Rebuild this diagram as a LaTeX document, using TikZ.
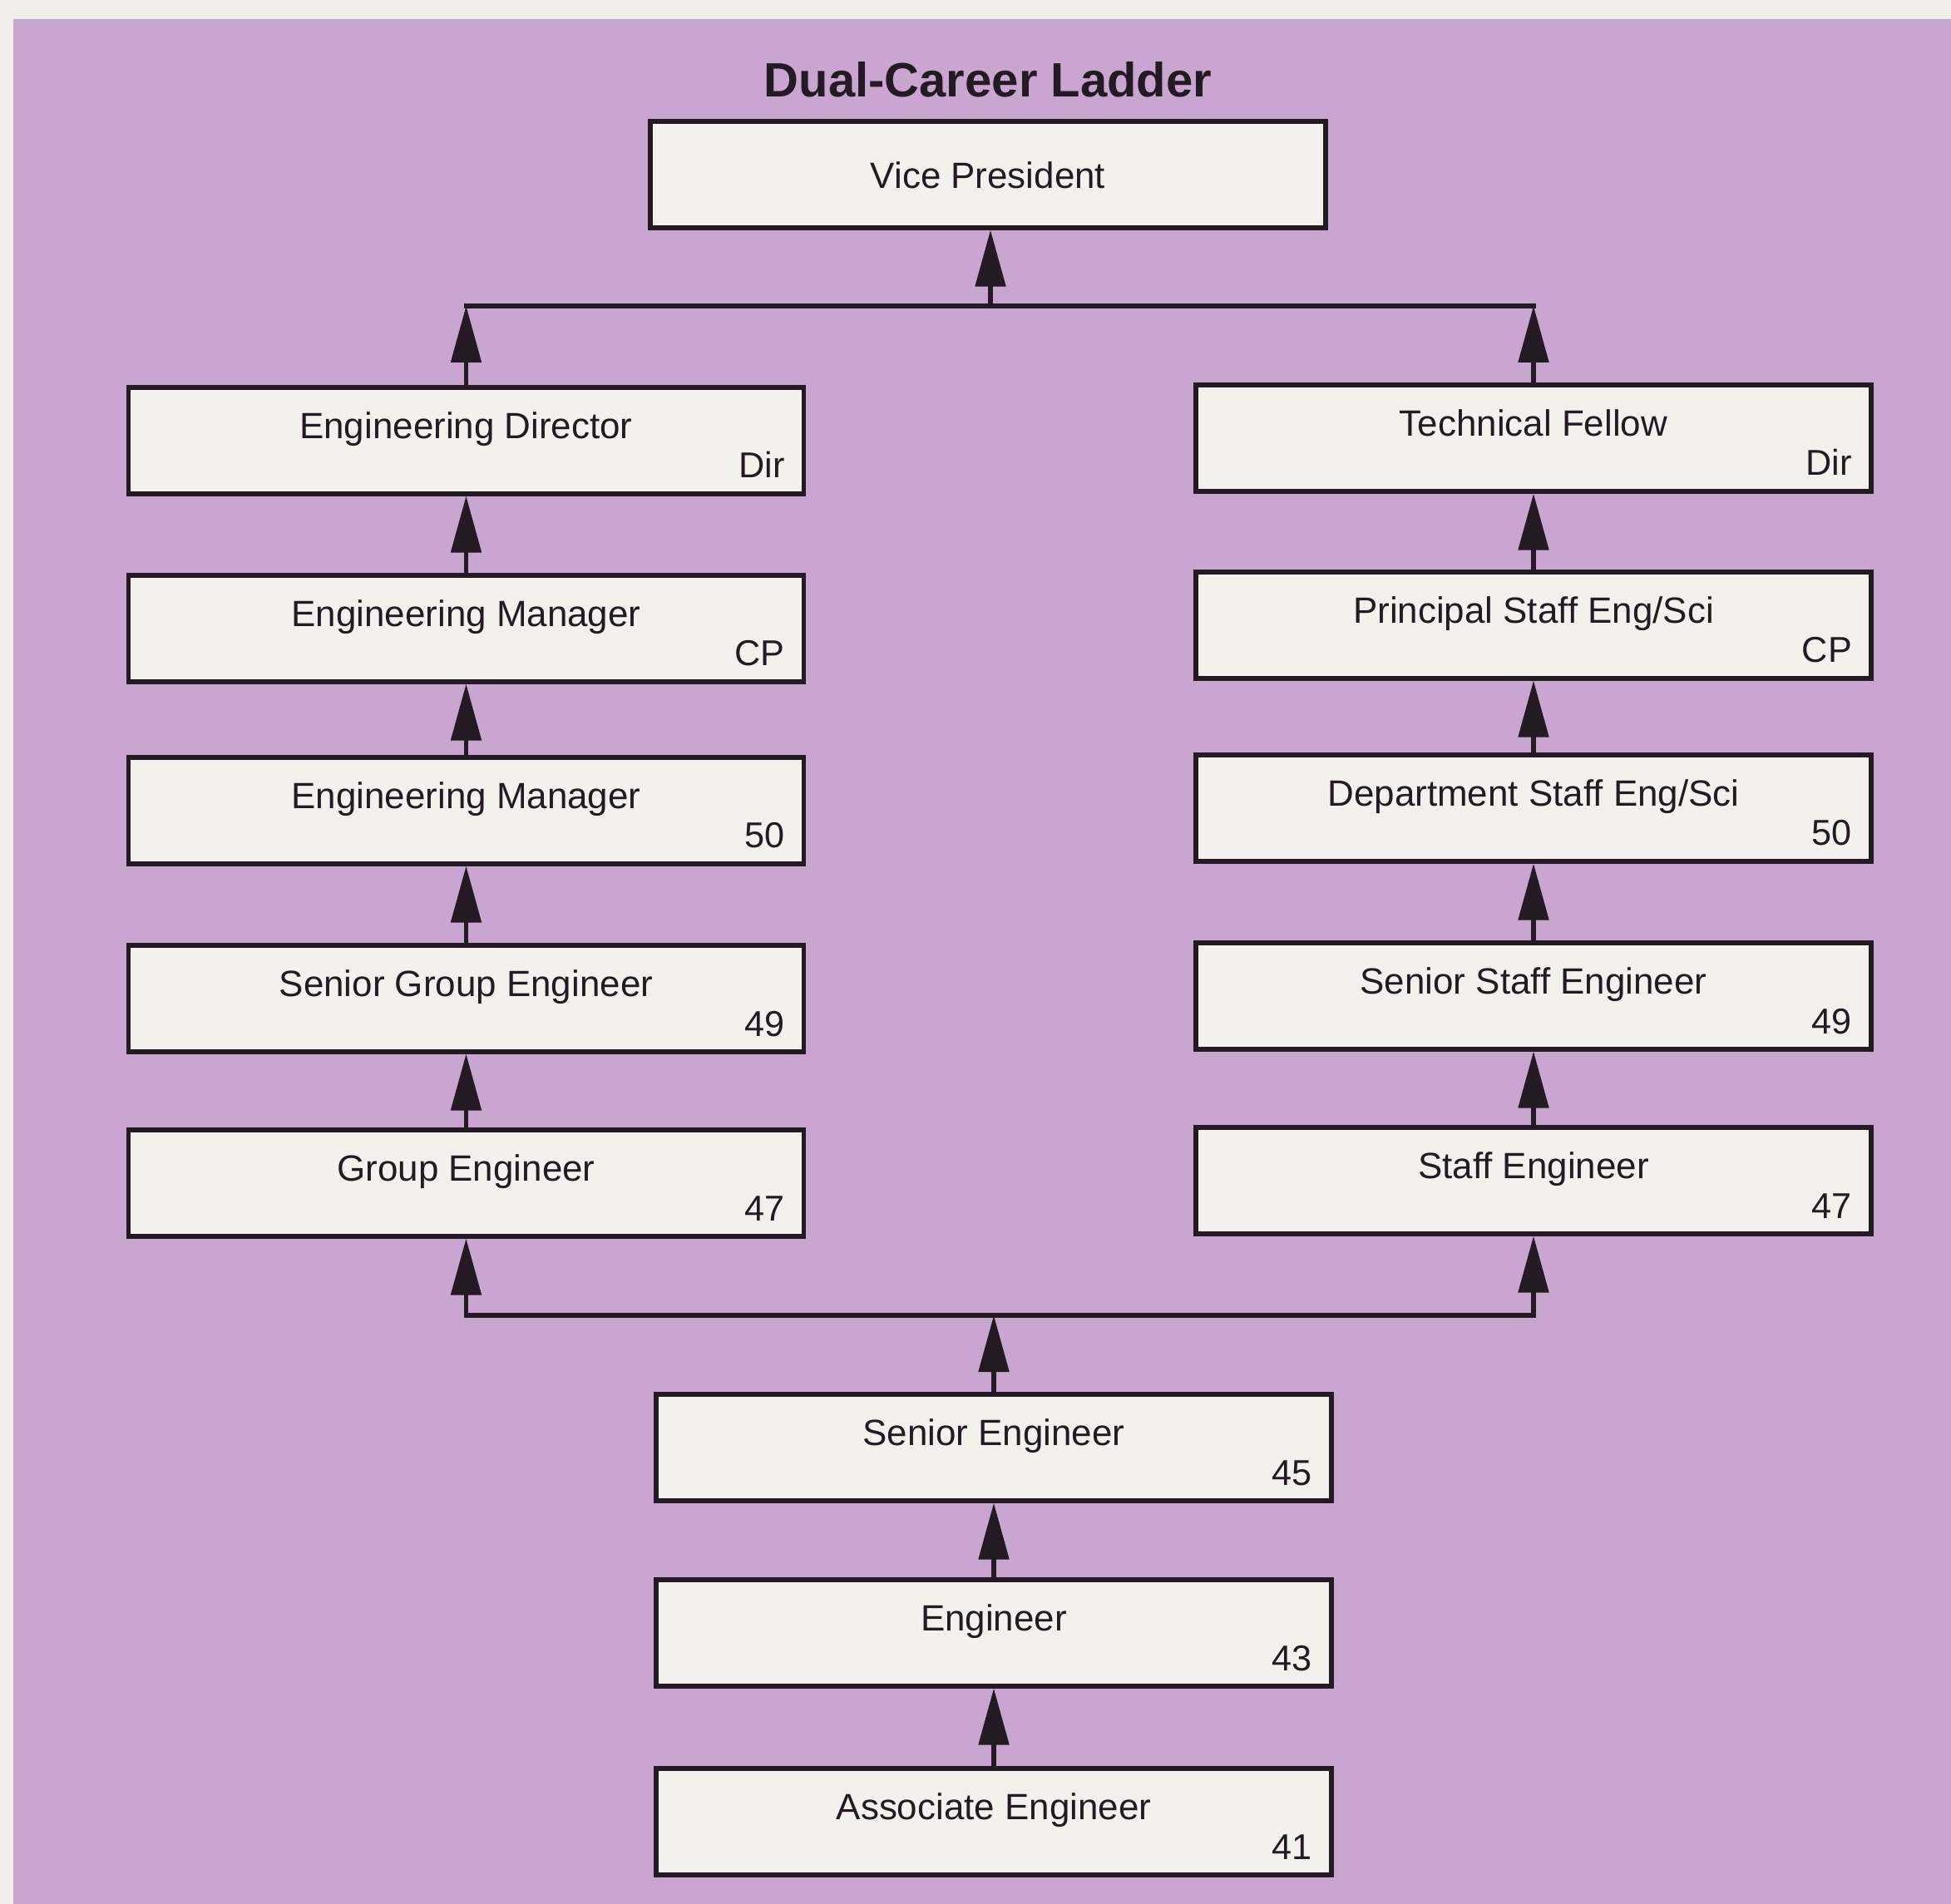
\documentclass[tikz,border=0pt]{standalone}
\usepackage{fontspec}
\setmainfont{Liberation Sans}
\usetikzlibrary{arrows.meta}
\definecolor{pagec}{RGB}{238,237,232}
\definecolor{lilac}{RGB}{201,166,207}
\definecolor{boxc}{RGB}{243,241,237}
\definecolor{inkc}{RGB}{35,26,36}
\begin{document}
\begin{tikzpicture}[
  rung/.style={draw=inkc, fill=boxc, line width=1.5pt, minimum width=8.12cm, minimum height=1.28cm, inner sep=0pt},
  rungname/.style={font=\fontsize{12.5}{15}\selectfont, text=inkc, anchor=base, inner sep=0pt},
  grade/.style={font=\fontsize{12.3}{15}\selectfont, text=inkc, anchor=base east, inner sep=0pt},
  upline/.style={-{Triangle[length=6.8mm,width=3.6mm]}, draw=inkc, line width=1.5pt},
  bothup/.style={{Triangle[length=6.8mm,width=3.6mm]}-{Triangle[length=6.8mm,width=3.6mm]}, draw=inkc, line width=1.5pt},
  bus/.style={draw=inkc, line width=1.5pt, line cap=rect}
]
  \useasboundingbox (0,0) rectangle (23.46,-22.90);
  \fill[pagec] (0,0) rectangle (23.46,-22.90);
  \fill[lilac] (0.16,-0.23) rectangle (23.46,-22.90);

  \node[font=\fontsize{16.5}{20}\selectfont\bfseries, text=inkc, anchor=base, inner sep=0pt] (head) at (11.88,-1.17) {Dual-Career Ladder};

  % top
  \node[rung] (vp) at (11.88,-2.10) {};
  \node[rungname] (vp-t) at ([yshift=-0.17cm]vp.center) {Vice President};

  % management side
  \foreach \n/\y/\t/\g in {1/5.30/Engineering Director/Dir, 2/7.56/Engineering Manager/CP,
      3/9.75/Engineering Manager/50, 4/12.01/Senior Group Engineer/49, 5/14.23/Group Engineer/47} {
    \node[rung] (L\n) at (5.605,-\y) {};
    \node[rungname] (L\n-t) at ([yshift=0.025cm]L\n.center) {\t};
    \node[grade] (L\n-g) at ([xshift=-0.25cm,yshift=-0.45cm]L\n.east) {\g};
  }

  % technical side
  \foreach \n/\y/\t/\g in {1/5.27/Technical Fellow/Dir, 2/7.52/{Principal Staff Eng/Sci}/CP,
      3/9.72/{Department Staff Eng/Sci}/50, 4/11.98/Senior Staff Engineer/49, 5/14.20/Staff Engineer/47} {
    \node[rung] (R\n) at (18.44,-\y) {};
    \node[rungname] (R\n-t) at ([yshift=0.025cm]R\n.center) {\t};
    \node[grade] (R\n-g) at ([xshift=-0.25cm,yshift=-0.45cm]R\n.east) {\g};
  }

  % common entry
  \foreach \n/\y/\t/\g in {1/17.41/Senior Engineer/45, 2/19.64/Engineer/43, 3/21.91/Associate Engineer/41} {
    \node[rung] (B\n) at (11.95,-\y) {};
    \node[rungname] (B\n-t) at ([yshift=0.025cm]B\n.center) {\t};
    \node[grade] (B\n-g) at ([xshift=-0.25cm,yshift=-0.45cm]B\n.east) {\g};
  }

  \coordinate (topbus) at (11.91,-3.68);
  \coordinate (botbus) at (11.95,-15.82);

  % ladders
  \foreach \a/\b in {5/4,4/3,3/2,2/1} {
    \draw[upline] (L\a.north) -- (L\b.south);
    \draw[upline] (R\a.north) -- (R\b.south);
  }
  \draw[upline] (B3.north) -- (B2.south);
  \draw[upline] (B2.north) -- (B1.south);

  % split and join
  \draw[upline] (B1.north) -- (B1.north |- botbus);
  \draw[bothup] (L5.south) -- (L5.south |- botbus) -- (R5.south |- botbus) -- (R5.south);
  \draw[upline] (L1.north) -- (L1.north |- topbus);
  \draw[upline] (R1.north) -- (R1.north |- topbus);
  \draw[bus] (L1.north |- topbus) -- (R1.north |- topbus);
  \draw[upline] (topbus) -- (topbus |- vp.south);
\end{tikzpicture}
\end{document}
